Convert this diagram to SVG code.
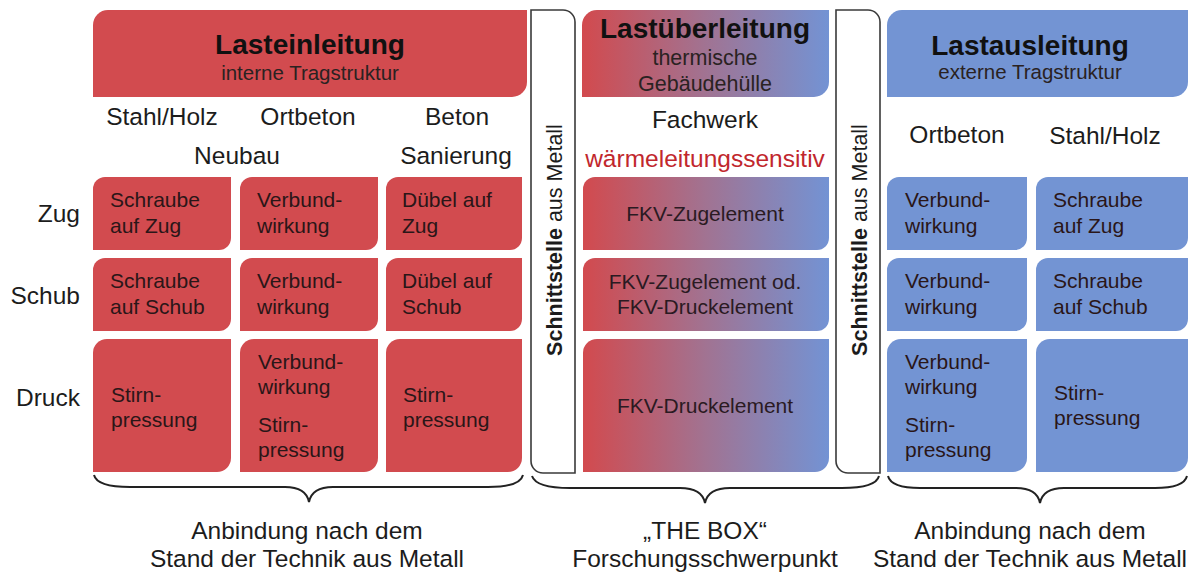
<svg xmlns="http://www.w3.org/2000/svg" width="1196" height="573" viewBox="0 0 1196 573">
<defs>
<linearGradient id="rb" x1="0" y1="0" x2="1" y2="0">
<stop offset="0" stop-color="#d24a4e"/>
<stop offset="0.5" stop-color="#a17392"/>
<stop offset="1" stop-color="#7393d4"/>
</linearGradient>
</defs>
<style>
text{font-family:"Liberation Sans",Arial,sans-serif;fill:#1c1c1c}
.red{fill:#d24b4f}
.blue{fill:#7394d3}
.grad{fill:url(#rb)}
.hd{font-size:28px;font-weight:bold;text-anchor:middle;fill:#111}
.sub{font-size:20.5px;text-anchor:middle;fill:#2a2222}
.lbl{font-size:24.5px;text-anchor:middle}
.row{font-size:24.5px;text-anchor:end}
.cell{font-size:21px;fill:#2a1618}
.cc{font-size:21px;text-anchor:middle;fill:#2a1a22}
.warm{fill:#c1272d}
.iface{fill:#fff;stroke:#3a3a3a;stroke-width:1.6}
.vt{font-size:21.5px;text-anchor:middle}
.brace{fill:none;stroke:#222;stroke-width:2}
.bt{font-size:24.5px;text-anchor:middle}
</style>

<g id="header-lasteinleitung">
<path class="red" d="M93,25 A15,15 0 0 1 108,10 H527 V82 A15,15 0 0 1 512,97 H93 Z"/>
<text class="hd" x="310" y="54">Lasteinleitung</text>
<text class="sub" x="310" y="80">interne Tragstruktur</text>
</g>
<g id="header-lastueberleitung">
<path class="grad" d="M582,25 A15,15 0 0 1 597,10 H829 V82 A15,15 0 0 1 814,97 H582 Z"/>
<text class="hd" x="705" y="38">Lastüberleitung</text>
<text class="sub" x="705" y="65" style="font-size:21.5px">thermische</text>
<text class="sub" x="705" y="91" style="font-size:21.5px">Gebäudehülle</text>
</g>
<g id="header-lastausleitung">
<path class="blue" d="M887,25 A15,15 0 0 1 902,10 H1188 V82 A15,15 0 0 1 1173,97 H887 Z"/>
<text class="hd" x="1030" y="55">Lastausleitung</text>
<text class="sub" x="1030" y="79">externe Tragstruktur</text>
</g>

<g id="labels">
<text class="lbl" x="162" y="125">Stahl/Holz</text>
<text class="lbl" x="308" y="125">Ortbeton</text>
<text class="lbl" x="457" y="125">Beton</text>
<text class="lbl" x="237" y="164">Neubau</text>
<text class="lbl" x="456" y="164">Sanierung</text>
<text class="lbl" x="705" y="128">Fachwerk</text>
<text class="lbl warm" x="705" y="167">wärmeleitungssensitiv</text>
<text class="lbl" x="957" y="143">Ortbeton</text>
<text class="lbl" x="1105" y="144">Stahl/Holz</text>
<text class="row" x="80" y="222">Zug</text>
<text class="row" x="80" y="304">Schub</text>
<text class="row" x="80" y="406">Druck</text>
</g>

<g id="iface-left">
<path class="iface" d="M531,10 H563 A12,12 0 0 1 575,22 V473 H543 A12,12 0 0 1 531,461 Z"/>
<text class="vt" transform="translate(562,240) rotate(-90)"><tspan font-weight="bold">Schnittstelle</tspan> aus Metall</text>
</g>
<g id="iface-right">
<path class="iface" d="M836,10 H868 A12,12 0 0 1 880,22 V473 H848 A12,12 0 0 1 836,461 Z"/>
<text class="vt" transform="translate(867,240) rotate(-90)"><tspan font-weight="bold">Schnittstelle</tspan> aus Metall</text>
</g>

<g id="cell-l-zug-1"><path class="red" d="M93,189 A12,12 0 0 1 105,177 H231 V238 A12,12 0 0 1 219,250 H93 Z"/><text class="cell" x="110" y="207">Schraube</text><text class="cell" x="110" y="233">auf Zug</text></g>
<g id="cell-l-zug-2"><path class="red" d="M240,189 A12,12 0 0 1 252,177 H378 V238 A12,12 0 0 1 366,250 H240 Z"/><text class="cell" x="257" y="207">Verbund-</text><text class="cell" x="257" y="233">wirkung</text></g>
<g id="cell-l-zug-3"><path class="red" d="M386,189 A12,12 0 0 1 398,177 H522 V238 A12,12 0 0 1 510,250 H386 Z"/><text class="cell" x="402" y="207">Dübel auf</text><text class="cell" x="402" y="233">Zug</text></g>

<g id="cell-l-schub-1"><path class="red" d="M93,270 A12,12 0 0 1 105,258 H231 V319 A12,12 0 0 1 219,331 H93 Z"/><text class="cell" x="110" y="288">Schraube</text><text class="cell" x="110" y="314">auf Schub</text></g>
<g id="cell-l-schub-2"><path class="red" d="M240,270 A12,12 0 0 1 252,258 H378 V319 A12,12 0 0 1 366,331 H240 Z"/><text class="cell" x="257" y="288">Verbund-</text><text class="cell" x="257" y="314">wirkung</text></g>
<g id="cell-l-schub-3"><path class="red" d="M386,270 A12,12 0 0 1 398,258 H522 V319 A12,12 0 0 1 510,331 H386 Z"/><text class="cell" x="402" y="288">Dübel auf</text><text class="cell" x="402" y="314">Schub</text></g>

<g id="cell-l-druck-1"><path class="red" d="M93,353 A14,14 0 0 1 107,339 H231 V458 A14,14 0 0 1 217,472 H93 Z"/><text class="cell" x="111" y="402">Stirn-</text><text class="cell" x="111" y="427">pressung</text></g>
<g id="cell-l-druck-2"><path class="red" d="M240,353 A14,14 0 0 1 254,339 H378 V458 A14,14 0 0 1 364,472 H240 Z"/><text class="cell" x="258" y="369">Verbund-</text><text class="cell" x="258" y="394">wirkung</text><text class="cell" x="258" y="432">Stirn-</text><text class="cell" x="258" y="457">pressung</text></g>
<g id="cell-l-druck-3"><path class="red" d="M386,353 A14,14 0 0 1 400,339 H522 V458 A14,14 0 0 1 508,472 H386 Z"/><text class="cell" x="403" y="402">Stirn-</text><text class="cell" x="403" y="427">pressung</text></g>

<g id="cell-c-zug"><path class="grad" d="M583,189 A12,12 0 0 1 595,177 H829 V238 A12,12 0 0 1 817,250 H583 Z"/><text class="cc" x="705" y="221">FKV-Zugelement</text></g>
<g id="cell-c-schub"><path class="grad" d="M583,270 A12,12 0 0 1 595,258 H829 V319 A12,12 0 0 1 817,331 H583 Z"/><text class="cc" x="705" y="289">FKV-Zugelement od.</text><text class="cc" x="705" y="314">FKV-Druckelement</text></g>
<g id="cell-c-druck"><path class="grad" d="M583,353 A14,14 0 0 1 597,339 H829 V458 A14,14 0 0 1 815,472 H583 Z"/><text class="cc" x="705" y="413">FKV-Druckelement</text></g>

<g id="cell-r-zug-1"><path class="blue" d="M887,189 A12,12 0 0 1 899,177 H1027 V238 A12,12 0 0 1 1015,250 H887 Z"/><text class="cell" x="905" y="207">Verbund-</text><text class="cell" x="905" y="233">wirkung</text></g>
<g id="cell-r-zug-2"><path class="blue" d="M1036,189 A12,12 0 0 1 1048,177 H1188 V238 A12,12 0 0 1 1176,250 H1036 Z"/><text class="cell" x="1053" y="207">Schraube</text><text class="cell" x="1053" y="233">auf Zug</text></g>
<g id="cell-r-schub-1"><path class="blue" d="M887,270 A12,12 0 0 1 899,258 H1027 V319 A12,12 0 0 1 1015,331 H887 Z"/><text class="cell" x="905" y="288">Verbund-</text><text class="cell" x="905" y="314">wirkung</text></g>
<g id="cell-r-schub-2"><path class="blue" d="M1036,270 A12,12 0 0 1 1048,258 H1188 V319 A12,12 0 0 1 1176,331 H1036 Z"/><text class="cell" x="1053" y="288">Schraube</text><text class="cell" x="1053" y="314">auf Schub</text></g>
<g id="cell-r-druck-1"><path class="blue" d="M887,353 A14,14 0 0 1 901,339 H1027 V458 A14,14 0 0 1 1013,472 H887 Z"/><text class="cell" x="905" y="369">Verbund-</text><text class="cell" x="905" y="394">wirkung</text><text class="cell" x="905" y="432">Stirn-</text><text class="cell" x="905" y="457">pressung</text></g>
<g id="cell-r-druck-2"><path class="blue" d="M1036,353 A14,14 0 0 1 1050,339 H1188 V458 A14,14 0 0 1 1174,472 H1036 Z"/><text class="cell" x="1054" y="400">Stirn-</text><text class="cell" x="1054" y="425">pressung</text></g>

<g id="connectors">
<path class="brace" d="M94,475 Q97,487 130,487 H285 Q306,487 309,502 Q312,487 333,487 H488 Q520,487 523,475"/>
<path class="brace" d="M532,476 Q536,488 570,488 H680 Q702,488 705,503 Q708,488 730,488 H842 Q876,488 879,476"/>
<path class="brace" d="M888,476 Q891,488 920,488 H1016 Q1037,488 1040,503 Q1043,488 1064,488 H1155 Q1184,488 1187,476"/>
</g>

<g id="bottom-labels">
<text class="bt" x="307" y="539">Anbindung nach dem</text>
<text class="bt" x="307" y="567">Stand der Technik aus Metall</text>
<text class="bt" x="705" y="539">„THE BOX“</text>
<text class="bt" x="705" y="567">Forschungsschwerpunkt</text>
<text class="bt" x="1030" y="539">Anbindung nach dem</text>
<text class="bt" x="1030" y="567">Stand der Technik aus Metall</text>
</g>
</svg>
